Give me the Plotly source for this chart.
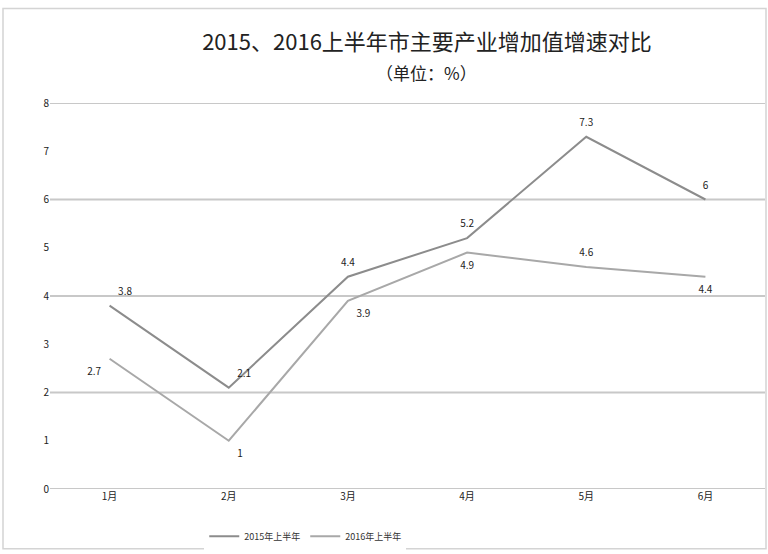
import plotly.graph_objects as go

# Monthly cumulative growth rates (%)
months = ["1月", "2月", "3月", "4月", "5月", "6月"]
growth_2015 = [3.8, 2.1, 4.4, 5.2, 7.3, 6.0]
growth_2016 = [2.7, 1.0, 3.9, 4.9, 4.6, 4.4]
label_2015 = ["3.8", "2.1", "4.4", "5.2", "7.3", "6"]
label_2016 = ["2.7", "1", "3.9", "4.9", "4.6", "4.4"]
pos_2015 = ["top right", "top right", "top center", "top center", "top center", "top center"]
pos_2016 = ["bottom left", "bottom right", "bottom right", "bottom center", "top center", "bottom center"]

y_ticks = [0, 1, 2, 3, 4, 5, 6, 7, 8]
grid_vals = [0, 2, 4, 6, 8]

title_main = "2015、2016上半年市主要产业增加值增速对比"
title_unit = "（单位：%）"

font_family = "Noto Sans CJK SC, Noto Sans, sans-serif"

W, H = 768, 554
M = dict(l=50, r=3, t=103, b=63)

fig = go.Figure()
fig.add_trace(go.Scatter(
    x=months, y=growth_2015, name="2015年上半年",
    mode="lines+markers+text", text=label_2015, textposition=pos_2015,
    line=dict(color="#8c8c8c", width=2),
    marker=dict(size=12, color="rgba(0,0,0,0)"),
    textfont=dict(size=10, color="#222222"),
))
fig.add_trace(go.Scatter(
    x=months, y=growth_2016, name="2016年上半年",
    mode="lines+markers+text", text=label_2016, textposition=pos_2016,
    line=dict(color="#a8a8a8", width=2),
    marker=dict(size=12, color="rgba(0,0,0,0)"),
    textfont=dict(size=10, color="#222222"),
))

for g in grid_vals:
    fig.add_hline(y=g, line=dict(color="#c8c8c8", width=2), layer="below")

# light frame around the whole chart
pw = W - M["l"] - M["r"]
ph = H - M["t"] - M["b"]
fig.add_shape(
    type="rect", xref="paper", yref="paper",
    x0=(3 - M["l"]) / pw, x1=(W - 2 - M["l"]) / pw,
    y0=-(M["b"] - 3) / ph, y1=1 + (M["t"] - 8) / ph,
    line=dict(color="#d4d4d4", width=1.5), layer="below",
)

# second title line (unit)
fig.add_annotation(
    text=title_unit, xref="paper", yref="paper",
    x=(427 - M["l"]) / pw, y=1 + (M["t"] - 72) / ph,
    xanchor="center", yanchor="middle", showarrow=False,
    font=dict(size=17, color="#222222"),
)

fig.update_layout(
    width=W, height=H,
    margin=M,
    paper_bgcolor="white", plot_bgcolor="white",
    font=dict(family=font_family, size=11, color="#333333"),
    title=dict(
        text=title_main,
        x=427 / W, xanchor="center", y=1 - 42 / H, yanchor="middle",
        font=dict(size=22, color="#222222"),
    ),
    xaxis=dict(range=[-0.5, 5.5], showgrid=False, showline=False, ticks="",
               tickfont=dict(size=10, color="#222222")),
    yaxis=dict(range=[0, 8], tickvals=y_ticks, showgrid=False, zeroline=False,
               showline=False, ticks="", tickfont=dict(size=10, color="#222222")),
    legend=dict(orientation="h", x=0.357, xanchor="center", y=-0.085, yanchor="top",
                font=dict(size=9, color="#333333")),
    showlegend=True,
)

fig.write_html("out.html")
